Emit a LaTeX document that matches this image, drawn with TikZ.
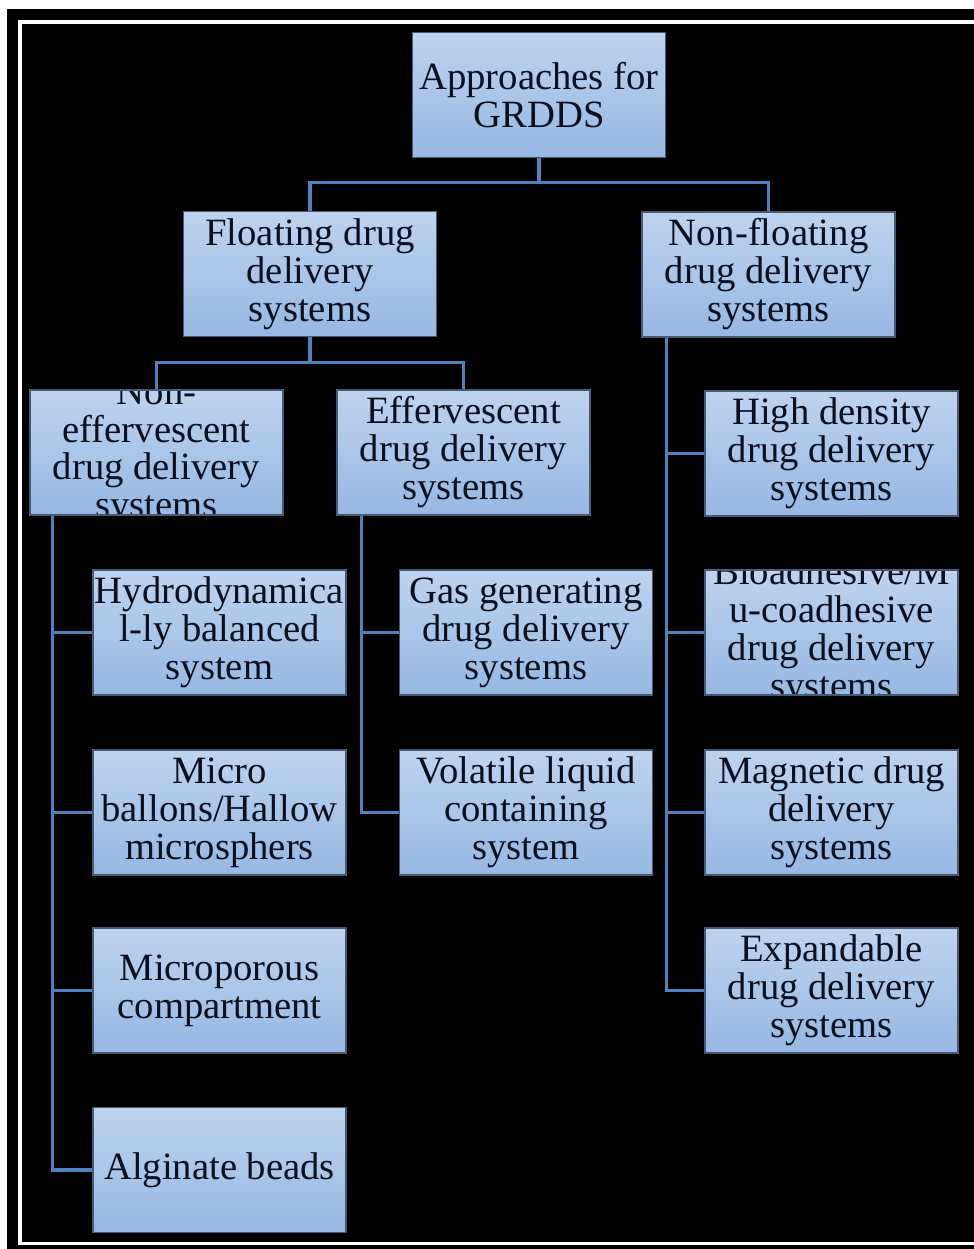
\documentclass[tikz,border=0pt]{standalone}
\usepackage{fontspec}
\setmainfont{Liberation Serif}
\usepackage{tikz}
\definecolor{boxtop}{RGB}{190, 211, 238}
\definecolor{boxbottom}{RGB}{150, 184, 226}
\definecolor{boxedge}{RGB}{70, 90, 120}
\definecolor{linkblue}{RGB}{79, 129, 189}
\definecolor{inktext}{RGB}{10, 15, 30}

\tikzset{
    grbox/.style={rectangle, draw=boxedge, line width=0.4pt, top color=boxtop, bottom color=boxbottom,
                  minimum width=2.53cm, minimum height=1.25cm, inner sep=0pt, align=center,
                  text=inktext, font=\fontsize{11}{10.8}\selectfont},
    clipbox/.style={grbox, path picture={\node[text=inktext, align=center, font=\fontsize{11}{10.8}\selectfont]
                  at (path picture bounding box.center) {#1};}},
    link/.style={draw=linkblue, line width=0.9pt}
}

\begin{document}
\begin{tikzpicture}
            % Frame
            \clip (0.00, 0.00) rectangle (9.74,-12.49);
            \fill[white] (-0.10, 0.10) rectangle (9.90,-12.60);
            \fill[black] (0.07,-0.09) rectangle (9.90,-12.60);
            \draw[white, line width=0.035cm] (0.20,-0.22) rectangle (10.20,-12.435);
            % Root
            \node[grbox] (root)     at (5.39,-0.95) {Approaches for\\GRDDS};
            % Level 1
            \node[grbox] (float)    at (3.10,-2.74) {Floating drug\\delivery\\systems};
            \node[grbox] (nonfloat) at (7.685,-2.745) {Non-floating\\drug delivery\\systems};
            % Level 2
            \node[clipbox={Non-\\effervescent\\drug delivery\\systems}] (noneff) at (1.565,-4.525) {};
            \node[grbox] (eff)      at (4.635,-4.525) {Effervescent\\drug delivery\\systems};
            % Non-effervescent branch
            \node[grbox] (hydro)    at (2.195,-6.325) {Hydrodynamica\\l-ly balanced\\system};
            \node[grbox] (micro)    at (2.195,-8.125) {Micro\\ballons/Hallow\\microsphers};
            \node[grbox] (pores)    at (2.195,-9.905) {Microporous\\compartment};
            \node[grbox] (beads)    at (2.195,-11.70) {Alginate beads};
            % Effervescent branch
            \node[grbox] (gas)      at (5.26,-6.325) {Gas generating\\drug delivery\\systems};
            \node[grbox] (volatile) at (5.26,-8.125) {Volatile liquid\\containing\\system};
            % Non-floating branch
            \node[grbox] (dense)    at (8.315,-4.535) {High density\\drug delivery\\systems};
            \node[clipbox={Bioadhesive/M\\u-coadhesive\\drug delivery\\systems}] (bio) at (8.315,-6.325) {};
            \node[grbox] (magnet)   at (8.315,-8.125) {Magnetic drug\\delivery\\systems};
            \node[grbox] (expand)   at (8.315,-9.905) {Expandable\\drug delivery\\systems};
            % Links
            \draw[link] (root.south) -- ++(0,-0.24) -| (float.north);
            \draw[link] (root.south) -- ++(0,-0.24) -| (nonfloat.north);
            \draw[link] (float.south) -- ++(0,-0.25) -| (noneff.north);
            \draw[link] (float.south) -- ++(0,-0.25) -| (eff.north);
            \foreach \kid in {hydro, micro, pores, beads}
                \draw[link] ([xshift=0.23cm]noneff.south west) |- (\kid.west);
            \foreach \kid in {gas, volatile}
                \draw[link] ([xshift=0.25cm]eff.south west) |- (\kid.west);
            \foreach \kid in {dense, bio, magnet, expand}
                \draw[link] ([xshift=0.25cm]nonfloat.south west) |- (\kid.west);
\end{tikzpicture}
\end{document}
